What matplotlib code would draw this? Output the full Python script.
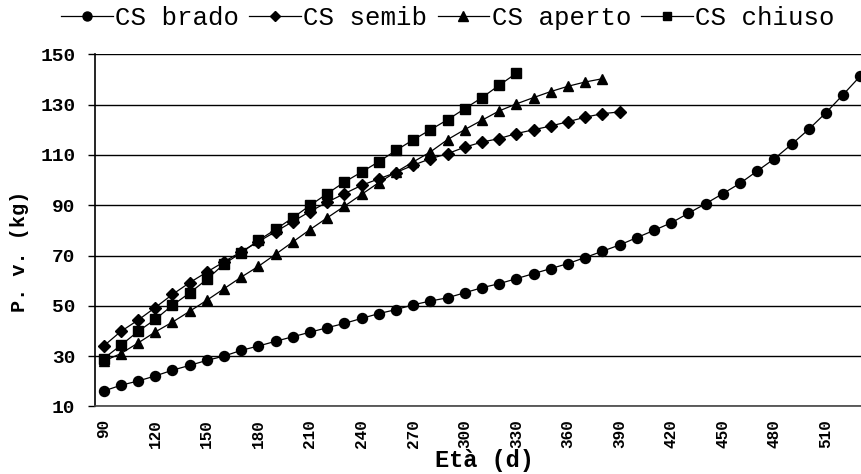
import matplotlib
matplotlib.use("Agg")
import matplotlib.pyplot as plt

# età in giorni (una categoria ogni 10 d)
eta = list(range(90, 540, 10))

# peso vivo (kg) per gruppo
brado = [16.1, 18.4, 20.1, 22.1, 24.4, 26.3, 28.3, 30.0, 32.3, 34.0, 35.9, 37.7,
         39.5, 41.3, 43.0, 45.0, 46.9, 48.5, 50.4, 51.9, 53.2, 55.2, 57.2, 58.8,
         60.8, 62.8, 64.8, 66.8, 69.2, 71.7, 74.2, 77.1, 80.0, 83.0, 86.8, 90.6,
         94.6, 98.7, 103.6, 108.5, 114.2, 120.2, 126.8, 134.0, 141.4]
semib = [34.0, 39.8, 44.3, 49.3, 54.5, 59.2, 63.4, 67.5, 71.5, 75.5, 79.5, 83.5,
         87.5, 91.2, 94.6, 97.9, 100.5, 103.0, 105.9, 108.5, 110.5, 113.1, 115.1,
         116.5, 118.5, 120.0, 121.5, 123.2, 125.0, 126.4, 127.1]
aperto = [28.0, 31.0, 35.2, 39.6, 43.5, 47.8, 52.2, 56.8, 61.4, 65.7, 70.5, 75.4,
          80.3, 85.0, 89.6, 94.3, 99.0, 103.2, 107.2, 111.2, 116.1, 120.1, 123.8,
          127.5, 130.3, 132.8, 135.2, 137.3, 139.0, 140.3]
chiuso = [29.0, 34.3, 39.8, 44.6, 50.2, 55.1, 60.5, 66.6, 71.1, 76.0, 80.4, 85.0,
          89.9, 94.6, 99.2, 103.2, 107.3, 111.8, 116.0, 120.0, 124.0, 128.4, 132.8,
          137.7, 142.5]

serie = [("CS brado", brado, "o", 7.2),
         ("CS semib", semib, "D", 5.8),
         ("CS aperto", aperto, "^", 7.8),
         ("CS chiuso", chiuso, "s", 7.0)]

xtick = list(range(90, 520, 30))
ytick = list(range(10, 160, 20))

mono = "Liberation Mono"

fig = plt.figure(figsize=(8.62, 4.74), dpi=100)
ax = fig.add_axes([95 / 862, 0.1426, 774 / 862, 0.7428])

for nome, valori, mk, ms in serie:
    ax.plot(eta[:len(valori)], valori, color="black", lw=0.9, marker=mk,
            markersize=ms, markerfacecolor="black", markeredgecolor="black",
            label=nome)

ax.set_xlim(85, 535)
ax.set_ylim(10, 150)
ax.set_xticks(xtick)
ax.set_xticklabels([str(v) for v in xtick], rotation=90, family=mono,
                   fontweight="bold", fontsize=11.5)
ax.set_yticks(ytick)
ax.set_yticklabels([str(v) for v in ytick], family=mono, fontweight="bold",
                   fontsize=14)
ax.tick_params(axis="x", length=0, pad=9)
ax.tick_params(axis="y", length=5, width=1, direction="out", pad=9)

ax.grid(axis="y", color="black", lw=1)
ax.set_axisbelow(True)
for s in ("top", "right"):
    ax.spines[s].set_visible(False)
ax.spines["left"].set_linewidth(1.2)
ax.spines["bottom"].set_color("#444444")
ax.spines["bottom"].set_linewidth(1.2)

fig.text(484 / 862, 1 - 461 / 474, "Età (d)", family=mono, fontweight="bold",
         fontsize=17, ha="center", va="center")
fig.text(20 / 862, 1 - 251 / 474, "P. v. (kg)", family=mono, fontweight="bold",
         fontsize=14.5, ha="center", va="center", rotation=90)

fig.legend(loc="center", bbox_to_anchor=(448 / 862, 1 - 18 / 474), ncol=4,
           frameon=False, prop={"family": mono, "size": 18.5},
           handlelength=2.0, handletextpad=0.1, columnspacing=0.4,
           markerscale=0.9)

fig.savefig("out.png", dpi=100)
